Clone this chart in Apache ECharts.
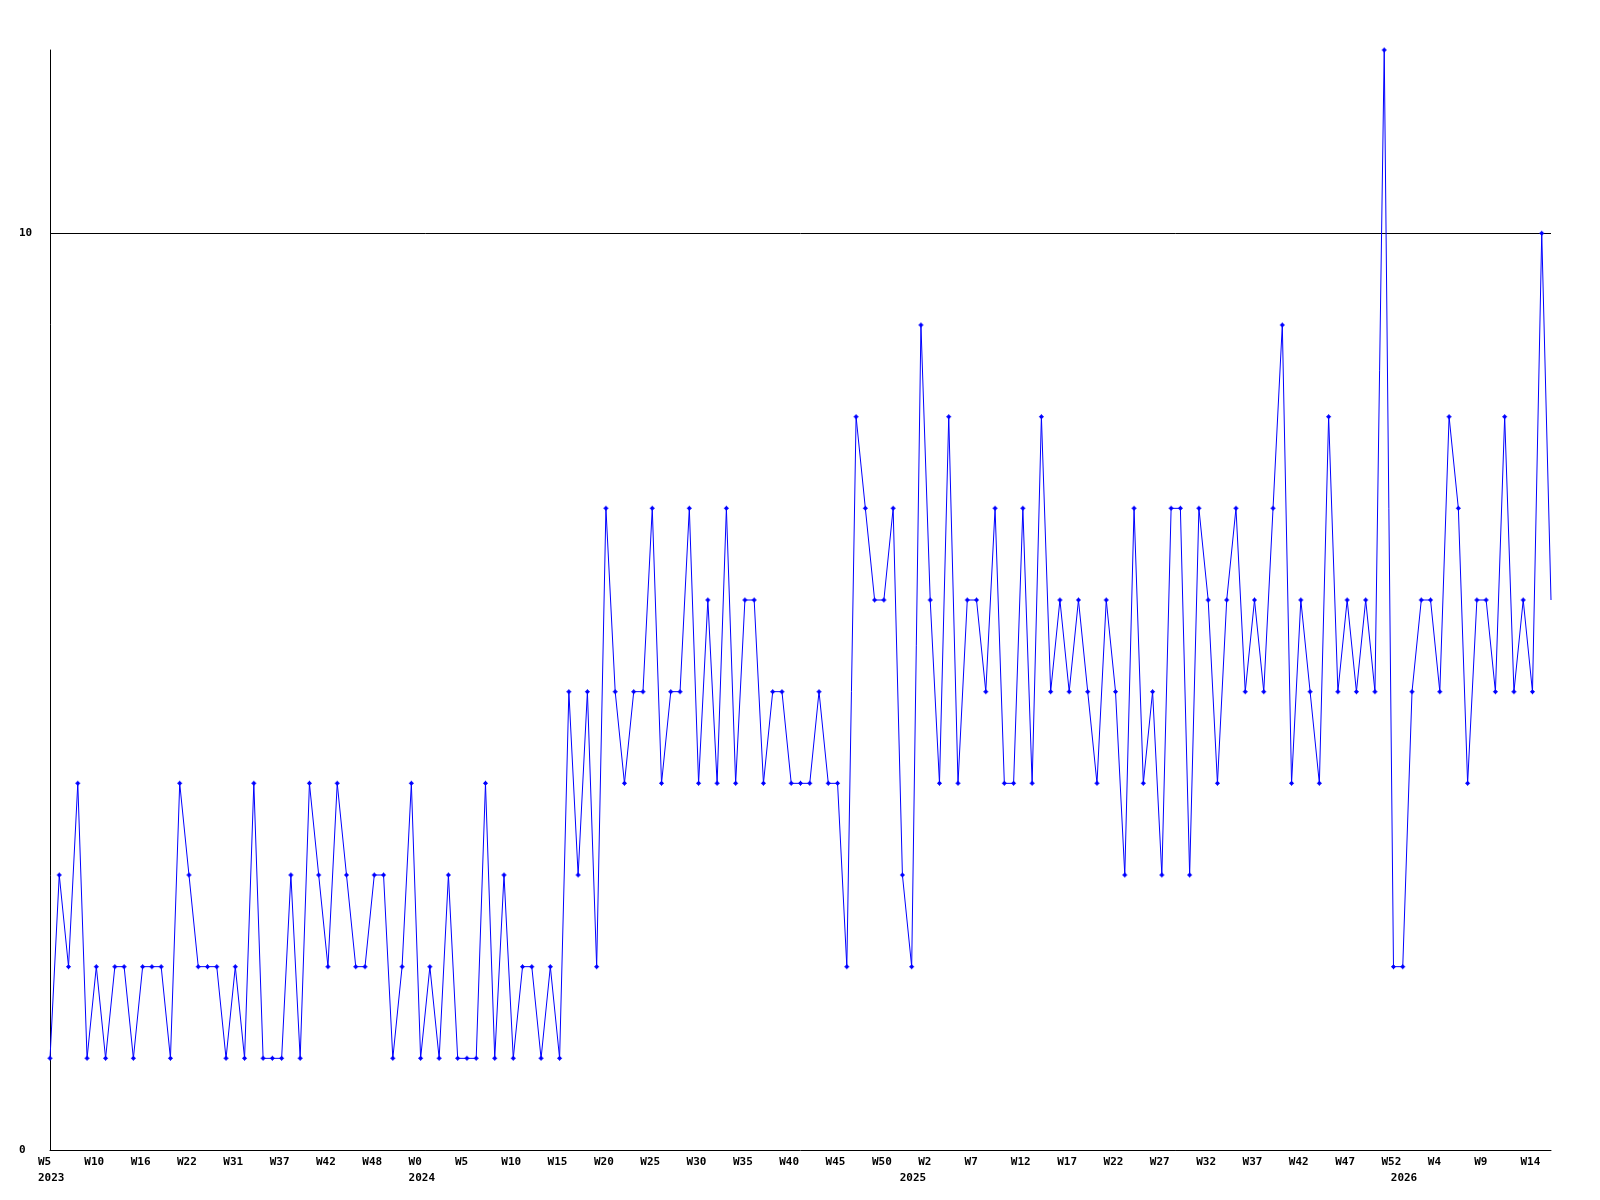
<!DOCTYPE html>
<html>
<head>
<meta charset="utf-8">
<script src="https://cdn.jsdelivr.net/npm/echarts@6/dist/echarts.min.js"></script>
<style>
html, body { margin: 0; background: #fff; }
#chart { width: 1600px; height: 1200px; }
</style>
</head>
<body>
<div id="chart"></div>
<script>
// week numbers per year, one entry per data point
const weeks2023 = [5, 6, 7, 8, 9, 10, 11, 12, 13, 15, 16, 17, 18, 20, 21, 22, 24, 26, 28, 30,
  31, 32, 33, 34, 36, 37, 38, 39, 40, 41, 42, 43, 44, 45, 47, 48, 49, 50, 51, 52]
const weeks2024 = [0, 1, 2, 3, 4, 5, 6, 7, 8, 9, 10, 11, 12, 13, 14, 15, 16, 17, 18, 19, 20, 21,
  22, 23, 24, 25, 26, 27, 28, 29, 30, 31, 32, 33, 34, 35, 36, 37, 38, 39, 40, 41, 42, 43, 44, 45,
  46, 47, 48, 49, 50, 51, 52]
const weeks2025 = [0, 1, 2, 3, 4, 5, 6, 7, 8, 9, 10, 11, 12, 13, 14, 15, 16, 17, 18, 19, 20, 21,
  22, 23, 24, 25, 26, 27, 28, 29, 30, 31, 32, 33, 34, 35, 36, 37, 38, 39, 40, 41, 42, 43, 44, 45,
  46, 47, 48, 49, 50, 51, 52]
const weeks2026 = [0, 1, 2, 3, 4, 5, 6, 7, 8, 9, 10, 11, 12, 13, 14, 15, 16]
const years = [2023, 2024, 2025, 2026]

const counts = [
  1, 3, 2, 4, 1, 2, 1, 2, 2, 1,
  2, 2, 2, 1, 4, 3, 2, 2, 2, 1,
  2, 1, 4, 1, 1, 1, 3, 1, 4, 3,
  2, 4, 3, 2, 2, 3, 3, 1, 2, 4,
  1, 2, 1, 3, 1, 1, 1, 4, 1, 3,
  1, 2, 2, 1, 2, 1, 5, 3, 5, 2,
  7, 5, 4, 5, 5, 7, 4, 5, 5, 7,
  4, 6, 4, 7, 4, 6, 6, 4, 5, 5,
  4, 4, 4, 5, 4, 4, 2, 8, 7, 6,
  6, 7, 3, 2, 9, 6, 4, 8, 4, 6,
  6, 5, 7, 4, 4, 7, 4, 8, 5, 6,
  5, 6, 5, 4, 6, 5, 3, 7, 4, 5,
  3, 7, 7, 3, 7, 6, 4, 6, 7, 5,
  6, 5, 7, 9, 4, 6, 5, 4, 8, 5,
  6, 5, 6, 5, 12, 2, 2, 5, 6, 6,
  5, 8, 7, 4, 6, 6, 5, 8, 5, 6,
  5, 10, 6
]

const yTicks = [0, 10]

let categories = []
;[weeks2023, weeks2024, weeks2025, weeks2026].forEach((list, k) => {
  list.forEach(w => categories.push(years[k] + '-W' + w))
})

const font = { fontFamily: 'DejaVu Sans Mono', fontWeight: 'bold', fontSize: 11, color: '#000' }

let myChart = echarts.init(document.getElementById('chart'))
myChart.setOption({
  animation: false,
  backgroundColor: '#fff',
  grid: { left: 50, right: 49, top: 50, bottom: 50 },
  xAxis: [
    {
      type: 'category',
      data: categories,
      boundaryGap: false,
      axisLine: { lineStyle: { color: '#000', width: 1 } },
      axisTick: { show: false },
      splitLine: { show: false },
      axisLabel: Object.assign({
        interval: 4,
        align: 'left',
        margin: 7,
        padding: [0, 0, 0, -12],
        formatter: v => v.split('-')[1]
      }, font)
    },
    {
      // year row under the week labels
      type: 'category',
      data: categories,
      boundaryGap: false,
      position: 'bottom',
      offset: 16,
      axisLine: { show: false },
      axisTick: { show: false },
      splitLine: { show: false },
      axisLabel: Object.assign({
        interval: (i, v) => i === 0 || v.split('-W')[1] === '0',
        align: 'left',
        margin: 7,
        padding: [0, 0, 0, -12],
        formatter: v => v.split('-')[0]
      }, font)
    }
  ],
  yAxis: {
    type: 'value',
    min: yTicks[0],
    max: 12,
    interval: yTicks[1],
    axisLine: { show: true, lineStyle: { color: '#000', width: 1 } },
    axisTick: { show: false },
    splitLine: { show: true, showMinLine: false, showMaxLine: false, lineStyle: { color: '#000', width: 1 } },
    axisLabel: Object.assign({
      showMaxLabel: false,
      align: 'left',
      margin: 31
    }, font)
  },
  series: [
    {
      type: 'line',
      xAxisIndex: 0,
      data: counts.map((c, i) => i === counts.length - 1 ? { value: c, symbol: 'none' } : c),
      showAllSymbol: true,
      symbol: 'path://M2 0h1v1h1v1h1v1H4v1H3v1H2V4H1V3H0V2h1V1h1z',
      symbolSize: 5,
      itemStyle: { color: '#0000ff' },
      lineStyle: { color: '#0000ff', width: 1 }
    }
  ]
})
</script>
</body>
</html>
